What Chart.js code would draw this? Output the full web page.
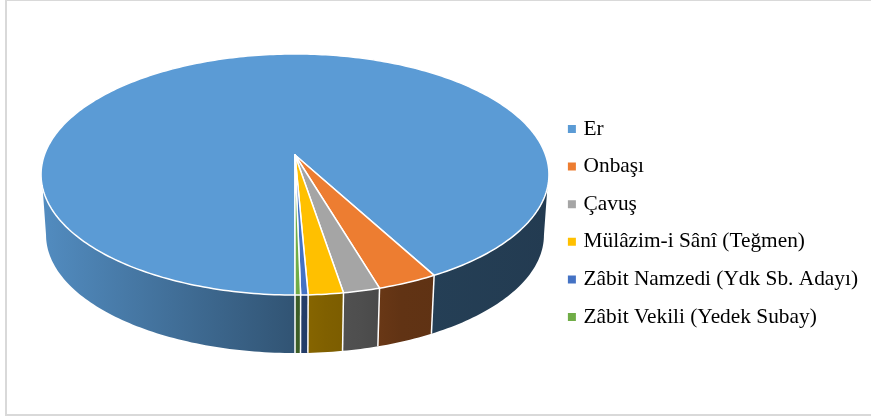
<!DOCTYPE html>
<html>
<head>
<meta charset="utf-8">
<script src="https://cdn.jsdelivr.net/npm/chart.js@4"></script>
<style>
  html, body { margin: 0; padding: 0; background: #fff; overflow: hidden; }
  #frame { position: absolute; left: 5px; top: -1px; width: 880px; height: 413px; border: 2px solid #d9d9d9; box-sizing: content-box; }
  canvas { position: absolute; left: 0; top: 0; }
</style>
</head>
<body>
<div id="frame"></div>
<canvas id="myChart" width="871" height="416"></canvas>
<script>
const categories = ['Er', 'Onbaşı', 'Çavuş', 'Mülâzim-i Sânî (Teğmen)', 'Zâbit Namzedi (Ydk Sb. Adayı)', 'Zâbit Vekili (Yedek Subay)'];
const values = [92.1, 3.3, 2.0, 1.9, 0.4, 0.3];
const colors = ['#5b9bd5', '#ed7d31', '#a5a5a5', '#ffc000', '#4472c4', '#70ad47'];

const DEG = Math.PI / 180;

// perspective projection of the top face, apex sits above the ellipse centre
function topPoint(a) {
    const x = Math.cos(a), y = Math.sin(a);
    const d = 1 - 0.1618 * y;
    return { x: 295 + 250.6 * x / d, y: (92.3 * y + 155) / d };
}

// bottom rim is the top rim moved down and a bit smaller
function bottomPoint(a) {
    const p = topPoint(a);
    return { x: 295 + (p.x - 295) * 249 / 254, y: 235 + (p.y - 174.5) * 118 / 120.5 };
}

function wallGradient(ctx, hex) {
    const r = parseInt(hex.slice(1, 3), 16), g = parseInt(hex.slice(3, 5), 16), b = parseInt(hex.slice(5, 7), 16);
    const grad = ctx.createLinearGradient(41, 0, 549, 0);
    [[0, 0.9], [0.49, 0.55], [0.56, 0.5], [0.63, 0.47], [0.71, 0.41], [1, 0.38]].forEach(s => {
        grad.addColorStop(s[0], `rgb(${r * s[1]}, ${g * s[1]}, ${b * s[1]})`);
    });
    return grad;
}

// top rim runs from..to, bottom rim runs botFrom..botTo so the wall ends at the silhouette
function drawWall(ctx, from, to, botFrom, botTo, fill) {
    ctx.beginPath();
    const n = Math.max(2, Math.ceil((to - from) / DEG));
    for (let i = 0; i <= n; i++) {
        const p = topPoint(from + (to - from) * i / n);
        i ? ctx.lineTo(p.x, p.y) : ctx.moveTo(p.x, p.y);
    }
    const m = Math.max(2, Math.ceil((botTo - botFrom) / DEG));
    for (let i = m; i >= 0; i--) {
        const p = bottomPoint(botFrom + (botTo - botFrom) * i / m);
        ctx.lineTo(p.x, p.y);
    }
    ctx.closePath();
    ctx.fillStyle = fill;
    ctx.fill();
}

const pie3d = {
    id: 'pie3d',
    beforeDatasetDraw(chart) {
        const ctx = chart.ctx;
        const arcs = chart.getDatasetMeta(0).data;
        // visible part of the rim, [top from, top to, bottom from, bottom to]
        const front = [[15.6, 164.4, 9.3, 170.7], [375.6, 524.4, 369.3, 530.7]];
        ctx.save();
        ctx.lineJoin = 'round';

        // side walls
        arcs.forEach((arc, i) => {
            const fill = wallGradient(ctx, colors[i]);
            front.forEach(r => {
                const from = Math.max(arc.startAngle, r[0] * DEG);
                const to = Math.min(arc.endAngle, r[1] * DEG);
                if (to <= from) return;
                const botFrom = from === r[0] * DEG ? r[2] * DEG : from;
                const botTo = to === r[1] * DEG ? r[3] * DEG : to;
                drawWall(ctx, from, to, botFrom, botTo, fill);
            });
        });
        ctx.strokeStyle = '#fff';
        ctx.lineWidth = 1.5;
        arcs.forEach(arc => {
            const p = topPoint(arc.startAngle), q = bottomPoint(arc.startAngle);
            ctx.beginPath();
            ctx.moveTo(p.x, p.y);
            ctx.lineTo(q.x, q.y);
            ctx.stroke();
        });

        // top face
        arcs.forEach((arc, i) => {
            ctx.beginPath();
            ctx.moveTo(295, 155);
            const n = Math.ceil((arc.endAngle - arc.startAngle) / DEG) + 1;
            for (let k = 0; k <= n; k++) {
                const p = topPoint(arc.startAngle + (arc.endAngle - arc.startAngle) * k / n);
                ctx.lineTo(p.x, p.y);
            }
            ctx.closePath();
            ctx.fillStyle = colors[i];
            ctx.fill();
            ctx.stroke();
        });
        ctx.restore();
        return false;
    }
};

new Chart(document.getElementById('myChart'), {
    type: 'pie',
    data: {
        labels: categories,
        datasets: [{ data: values, backgroundColor: colors }]
    },
    options: {
        responsive: false,
        animation: false,
        rotation: 180,
        layout: { padding: { top: 30, right: 3 } },
        plugins: {
            tooltip: { enabled: false },
            legend: {
                position: 'right',
                labels: {
                    color: '#000',
                    font: { family: '"Liberation Serif"', size: 21.35, lineHeight: 1 },
                    usePointStyle: true,
                    pointStyle: 'rect',
                    boxWidth: 2,
                    boxHeight: 10,
                    padding: 16.25
                }
            }
        }
    },
    plugins: [pie3d]
});
</script>
</body>
</html>
